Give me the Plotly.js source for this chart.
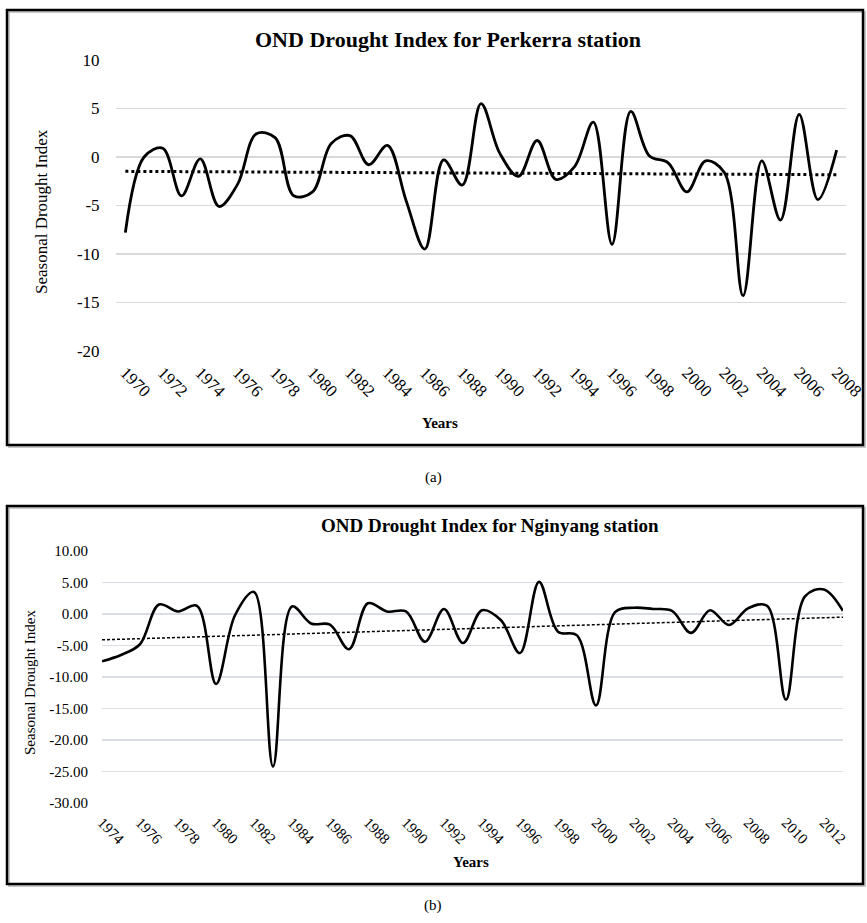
<!DOCTYPE html>
<html>
<head>
<meta charset="utf-8">
<script src="https://cdn.plot.ly/plotly-3.0.1.min.js"></script>
<style>html,body{margin:0;padding:0;background:#fff;}#chart{width:867px;height:923px;}</style>
</head>
<body>
<div id="chart"></div>
<script>
// ---- Data: Perkerra station (a) ----
var perkerraYears = [];
for (var yr = 1970; yr <= 2008; yr++) perkerraYears.push(yr);
var perkerraIndex = [-7.8, 0.0, 0.9, -4.0, -0.2, -5.1, -2.8, 2.4, 2.0, -4.0,
                     -3.6, 1.4, 2.2, -0.8, 1.2, -4.5, -9.5, -0.3, -2.9, 5.5,
                     0.4, -2.0, 1.7, -2.3, -1.0, 3.6, -9.0, 4.7, 0.1, -0.6,
                     -3.6, -0.4, -1.6, -14.3, -0.4, -6.5, 4.4, -4.4, 0.7];
var perkerraTrendX = [1970, 2008];
var perkerraTrendY = [-1.48, -1.83];
var perkerraTicks = [];
for (var t = 1970; t <= 2008; t += 2) perkerraTicks.push(t);
var perkerraYTicks = [10, 5, 0, -5, -10, -15, -20];
var perkerraYText = ['10', '5', '0', '-5', '-10', '-15', '-20'];

// ---- Data: Nginyang station (b) ----
var nginyangYears = [];
for (var yr2 = 1974; yr2 <= 2013; yr2++) nginyangYears.push(yr2);
var nginyangIndex = [-7.5, -6.5, -4.8, 1.5, 0.4, 1.3, -11.1, -0.2, 3.5, -24.2,
                     1.2, -1.5, -1.7, -5.6, 1.7, 0.4, 0.4, -4.4, 0.8, -4.6,
                     0.6, -1.0, -6.2, 5.1, -2.8, -3.4, -14.5, 0.3, 1.0, 0.8,
                     0.5, -3.0, 0.6, -1.75, 0.9, 1.3, -13.6, 2.8, 3.9, 0.5];
var nginyangTrendX = [1974, 2013];
var nginyangTrendY = [-4.1, -0.5];
var nginyangTicks = [];
for (var t2 = 1974; t2 <= 2012; t2 += 2) nginyangTicks.push(t2);
var nginyangYTicks = [10, 5, 0, -5, -10, -15, -20, -25, -30];
var nginyangYText = ['10.00', '5.00', '0.00', '-5.00', '-10.00', '-15.00', '-20.00', '-25.00', '-30.00'];

var W = 867, H = 923;
function px(x) { return x / W; }
function py(y) { return 1 - y / H; }
var SERIF = "'Liberation Serif', 'Times New Roman', Times, serif";

var traces = [
  {x: perkerraYears, y: perkerraIndex, type: 'scatter', mode: 'lines',
   line: {color: '#000', width: 2.8, shape: 'spline', smoothing: 1}, xaxis: 'x', yaxis: 'y', hoverinfo: 'skip'},
  {x: perkerraTrendX, y: perkerraTrendY, type: 'scatter', mode: 'lines',
   line: {color: '#000', width: 3, dash: 'dot'}, xaxis: 'x', yaxis: 'y', hoverinfo: 'skip'},
  {x: nginyangYears, y: nginyangIndex, type: 'scatter', mode: 'lines',
   line: {color: '#000', width: 2.6, shape: 'spline', smoothing: 1}, xaxis: 'x2', yaxis: 'y2', hoverinfo: 'skip'},
  {x: nginyangTrendX, y: nginyangTrendY, type: 'scatter', mode: 'lines',
   line: {color: '#000', width: 1.5, dash: '3px,2px'}, xaxis: 'x2', yaxis: 'y2', hoverinfo: 'skip'}
];

var layout = {
  width: W, height: H,
  margin: {l: 0, r: 0, t: 0, b: 0},
  paper_bgcolor: '#fff', plot_bgcolor: '#fff',
  showlegend: false,
  font: {family: SERIF, color: '#000'},
  xaxis: {
    domain: [px(116), px(846)], range: [1969.5, 2008.5], anchor: 'y',
    tickmode: 'array', tickvals: perkerraTicks, ticktext: perkerraTicks.map(String),
    tickangle: 45, showgrid: false, zeroline: false, showline: false,
    ticks: 'outside', ticklen: 4, tickcolor: 'rgba(0,0,0,0)',
    tickfont: {family: SERIF, size: 17, color: '#000'}
  },
  yaxis: {
    domain: [py(351), py(60)], range: [-20, 10], anchor: 'x',
    tickmode: 'array', tickvals: perkerraYTicks, ticktext: perkerraYText,
    showgrid: true, gridcolor: '#d9d9d9', gridwidth: 1.3,
    zeroline: false, showline: false,
    ticks: 'outside', ticklen: 12, tickcolor: 'rgba(0,0,0,0)',
    tickfont: {family: SERIF, size: 17, color: '#000'}
  },
  xaxis2: {
    domain: [px(102), px(843)], range: [1974, 2013], anchor: 'y2',
    tickmode: 'array', tickvals: nginyangTicks, ticktext: nginyangTicks.map(String),
    tickangle: 45, showgrid: false, zeroline: false, showline: false,
    ticks: 'outside', ticklen: 4, tickcolor: 'rgba(0,0,0,0)',
    tickfont: {family: SERIF, size: 15, color: '#000'}
  },
  yaxis2: {
    domain: [py(803), py(551)], range: [-30, 10], anchor: 'x2',
    tickmode: 'array', tickvals: nginyangYTicks, ticktext: nginyangYText,
    showgrid: true, gridcolor: '#dadde3', gridwidth: 1.3,
    zeroline: false, showline: false,
    ticks: 'outside', ticklen: 10, tickcolor: 'rgba(0,0,0,0)',
    tickfont: {family: SERIF, size: 15, color: '#000'}
  },
  shapes: [
    {type: 'rect', xref: 'paper', yref: 'paper', x0: px(9), x1: px(865), y0: py(447), y1: py(12),
     line: {color: '#c8c8c8', width: 2}, layer: 'below'},
    {type: 'rect', xref: 'paper', yref: 'paper', x0: px(7), x1: px(863), y0: py(445), y1: py(10),
     line: {color: '#000', width: 2.5}},
    {type: 'rect', xref: 'paper', yref: 'paper', x0: px(9), x1: px(865), y0: py(886), y1: py(508),
     line: {color: '#c8c8c8', width: 2}, layer: 'below'},
    {type: 'rect', xref: 'paper', yref: 'paper', x0: px(7), x1: px(863), y0: py(884), y1: py(506),
     line: {color: '#000', width: 2.5}}
  ],
  annotations: [
    {text: '<b>OND Drought Index for Perkerra station</b>', xref: 'paper', yref: 'paper',
     x: px(448), y: py(40), xanchor: 'center', yanchor: 'middle', showarrow: false,
     font: {family: SERIF, size: 22, color: '#000'}},
    {text: 'Seasonal Drought Index', xref: 'paper', yref: 'paper',
     x: px(42), y: py(212), xanchor: 'center', yanchor: 'middle', showarrow: false, textangle: -90,
     font: {family: SERIF, size: 17, color: '#000'}},
    {text: '<b>Years</b>', xref: 'paper', yref: 'paper',
     x: px(440), y: py(423), xanchor: 'center', yanchor: 'middle', showarrow: false,
     font: {family: SERIF, size: 15, color: '#000'}},
    {text: '(a)', xref: 'paper', yref: 'paper',
     x: px(433), y: py(478), xanchor: 'center', yanchor: 'middle', showarrow: false,
     font: {family: SERIF, size: 15, color: '#000'}},
    {text: '<b>OND Drought Index for Nginyang station</b>', xref: 'paper', yref: 'paper',
     x: px(490), y: py(525), xanchor: 'center', yanchor: 'middle', showarrow: false,
     font: {family: SERIF, size: 19, color: '#000'}},
    {text: 'Seasonal Drought Index', xref: 'paper', yref: 'paper',
     x: px(30), y: py(683), xanchor: 'center', yanchor: 'middle', showarrow: false, textangle: -90,
     font: {family: SERIF, size: 15, color: '#000'}},
    {text: '<b>Years</b>', xref: 'paper', yref: 'paper',
     x: px(471), y: py(862), xanchor: 'center', yanchor: 'middle', showarrow: false,
     font: {family: SERIF, size: 15, color: '#000'}},
    {text: '(b)', xref: 'paper', yref: 'paper',
     x: px(433), y: py(905), xanchor: 'center', yanchor: 'middle', showarrow: false,
     font: {family: SERIF, size: 15, color: '#000'}}
  ]
};

Plotly.newPlot('chart', traces, layout, {staticPlot: true, displayModeBar: false});
</script>
</body>
</html>
